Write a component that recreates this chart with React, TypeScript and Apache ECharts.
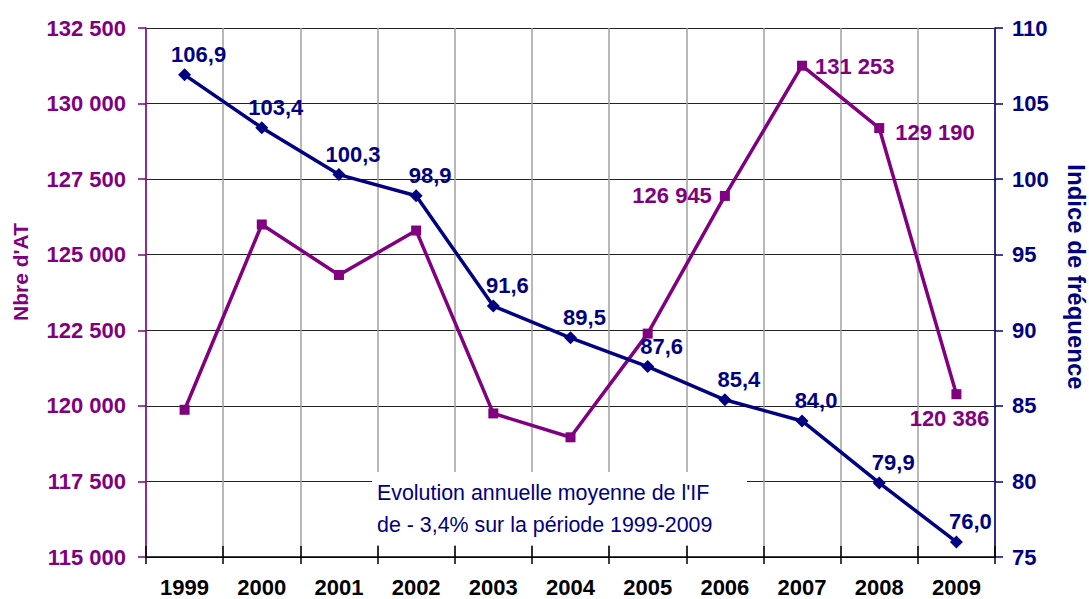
import React, { useEffect, useRef } from "react";
import * as echarts from "echarts";

const years = ["1999", "2000", "2001", "2002", "2003", "2004", "2005", "2006", "2007", "2008", "2009"];
const nbreAT = [119870, 126000, 124330, 125800, 119750, 118960, 122390, 126945, 131253, 129190, 120386];
const indiceFrequence = [106.9, 103.4, 100.3, 98.9, 91.6, 89.5, 87.6, 85.4, 84.0, 79.9, 76.0];

const leftMin = 115000;
const leftMax = 132500;
const leftStep = 2500;
const rightMin = 75;
const rightMax = 110;
const rightStep = 5;

const leftTitle = "Nbre d'AT";
const rightTitle = "Indice de fréquence";
const noteLines = ["Evolution annuelle moyenne de l'IF", "de - 3,4% sur la période 1999-2009"];

// which Nbre d'AT points carry a label, and where
const nbreATLabelPos: Record<string, { position: string; offset: number[] }> = {
  "2006": { position: "left", offset: [0, 0] },
  "2007": { position: "right", offset: [0, 1] },
  "2008": { position: "right", offset: [3, 4] },
  "2009": { position: "bottom", offset: [-7, 0] },
};

const PURPLE = "#800080";
const NAVY = "#000080";
const FONT = "'Liberation Sans', Arial, sans-serif";
const FS = 22;

const fmtThousands = (v: number) => String(Math.round(v)).replace(/\B(?=(\d{3})+(?!\d))/g, " ");
const fmtComma = (v: number) => v.toFixed(1).replace(".", ",");

export default function App() {
  const ref = useRef<HTMLDivElement>(null);

  useEffect(() => {
    document.body.style.margin = "0";
    const chart = echarts.init(ref.current!, undefined, { renderer: "svg" });

    const purpleData = nbreAT.map((v, i) => {
      const cfg = nbreATLabelPos[years[i]];
      if (!cfg) return v;
      return {
        value: v,
        label: {
          show: true,
          position: cfg.position,
          offset: cfg.offset,
          distance: 8,
          formatter: (p: any) => fmtThousands(p.value),
          color: PURPLE,
          fontSize: FS,
          fontWeight: "bold",
          fontFamily: FONT,
        },
      };
    });

    chart.setOption({
      animation: false,
      backgroundColor: "#fff",
      grid: { left: 146, right: 94, top: 28, bottom: 42, containLabel: false },
      xAxis: [
        {
          type: "category",
          data: years,
          boundaryGap: true,
          position: "bottom",
          axisLine: { show: true, lineStyle: { color: "#000", width: 1.5 } },
          axisTick: { show: true, inside: false, length: 7, interval: 0, lineStyle: { color: "#000", width: 1.5 } },
          axisLabel: {
            interval: 0,
            margin: 19,
            color: "#000",
            fontSize: FS,
            fontWeight: "bold",
            fontFamily: FONT,
          },
          splitLine: { show: true, interval: 0, lineStyle: { color: "#a0a0a0", width: 1.5 } },
        },
        {
          type: "category",
          data: years,
          boundaryGap: true,
          position: "bottom",
          axisLine: { show: false },
          axisTick: { show: true, inside: true, length: 11, interval: 0, lineStyle: { color: "#000", width: 1.5 } },
          axisLabel: { show: false },
          splitLine: { show: false },
        },
      ],
      yAxis: [
        {
          type: "value",
          min: leftMin,
          max: leftMax,
          interval: leftStep,
          position: "left",
          axisLine: { show: true, lineStyle: { color: PURPLE, width: 1.5 } },
          axisTick: { show: true, length: 8, lineStyle: { color: PURPLE, width: 1.5 } },
          axisLabel: {
            margin: 20,
            color: PURPLE,
            fontSize: FS,
            fontWeight: "bold",
            fontFamily: FONT,
            formatter: (v: number) => fmtThousands(v),
          },
          splitLine: { show: true, lineStyle: { color: "#222", width: 1 } },
        },
        {
          type: "value",
          min: rightMin,
          max: rightMax,
          interval: rightStep,
          position: "right",
          axisLine: { show: true, lineStyle: { color: NAVY, width: 1.5 } },
          axisTick: { show: true, length: 8, lineStyle: { color: NAVY, width: 1.5 } },
          axisLabel: {
            margin: 17,
            color: NAVY,
            fontSize: FS,
            fontWeight: "bold",
            fontFamily: FONT,
          },
          splitLine: { show: false },
        },
      ],
      series: [
        {
          name: leftTitle,
          type: "line",
          xAxisIndex: 0,
          yAxisIndex: 0,
          data: purpleData,
          symbol: "rect",
          symbolSize: 10,
          showAllSymbol: true,
          lineStyle: { color: PURPLE, width: 3.5 },
          itemStyle: { color: PURPLE },
          label: { show: false },
          z: 3,
        },
        {
          name: rightTitle,
          type: "line",
          xAxisIndex: 0,
          yAxisIndex: 1,
          data: indiceFrequence,
          symbol: "diamond",
          symbolSize: 13,
          showAllSymbol: true,
          lineStyle: { color: NAVY, width: 3.5 },
          itemStyle: { color: NAVY },
          label: {
            show: true,
            position: "top",
            offset: [14, 2],
            distance: 5,
            color: NAVY,
            fontSize: FS,
            fontWeight: "bold",
            fontFamily: FONT,
            formatter: (p: any) => fmtComma(p.value),
          },
          z: 4,
        },
      ],
      graphic: [
        {
          type: "text",
          x: 20,
          y: 272,
          rotation: Math.PI / 2,
          z: 10,
          style: {
            text: leftTitle,
            fill: PURPLE,
            font: `bold 21px ${FONT}`,
            textAlign: "center",
            textVerticalAlign: "middle",
          },
        },
        {
          type: "text",
          x: 1076,
          y: 277,
          rotation: -Math.PI / 2,
          z: 10,
          style: {
            text: rightTitle,
            fill: NAVY,
            font: `bold 24px ${FONT}`,
            textAlign: "center",
            textVerticalAlign: "middle",
          },
        },
        {
          type: "rect",
          z: 1,
          shape: { x: 372, y: 472, width: 375, height: 73 },
          style: { fill: "#fff" },
        },
        {
          type: "text",
          x: 377,
          y: 493,
          z: 5,
          style: {
            text: noteLines[0],
            fill: NAVY,
            font: `21.4px ${FONT}`,
            textAlign: "left",
            textVerticalAlign: "middle",
          },
        },
        {
          type: "text",
          x: 377,
          y: 525,
          z: 5,
          style: {
            text: noteLines[1],
            fill: NAVY,
            font: `21.4px ${FONT}`,
            textAlign: "left",
            textVerticalAlign: "middle",
          },
        },
      ],
    });

    return () => chart.dispose();
  }, []);

  return (
    <div
      ref={ref}
      style={{ position: "absolute", left: 0, top: 0, width: 1089, height: 599 }}
    />
  );
}
